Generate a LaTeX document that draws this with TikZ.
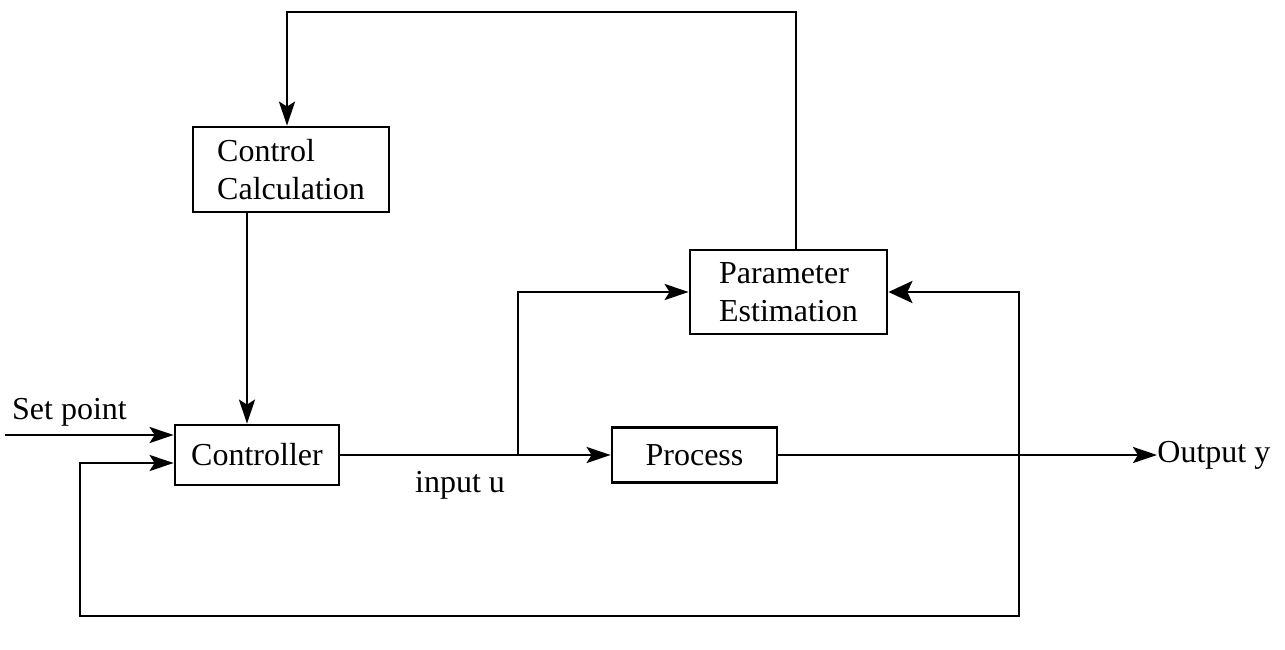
\documentclass[tikz,border=0pt]{standalone}
\usepackage{fontspec}
\setmainfont{Liberation Serif}
\usetikzlibrary{arrows.meta}
\tikzset{
  block/.style={draw, line width=1.4pt, inner sep=0pt, align=left,
    font=\fontsize{16}{19}\selectfont},
  lbl/.style={inner sep=0pt, font=\fontsize{16}{19}\selectfont},
  wire/.style={line width=1.4pt},
  arr/.style={wire, -{Stealth[length=12pt,width=8pt,inset=2.5pt]}},
}
\begin{document}
\begin{tikzpicture}[x=0.5pt,y=-0.5pt]
  \useasboundingbox (0,0) rectangle (1285,649);

  % blocks
  \node[block, minimum width=98pt, minimum height=42.5pt] (cc) at (291,169.5) {Control\\Calculation};
  \node[block, minimum width=82pt, minimum height=30pt] (ctrl) at (257,455) {Controller};
  \node[block, minimum width=98.5pt, minimum height=42pt] (pe) at (788.5,292) {Parameter\\Estimation};
  \node[block, minimum width=82.5pt, minimum height=27.5pt] (proc) at (694.5,455) {Process};

  % labels
  \node[lbl] (sp) at (69.5,412) {Set point};
  \node[lbl, anchor=west] (out) at (1157,455) {Output y};
  \node[lbl] (inu) at (460,485) {input u};

  % routing points
  \coordinate (spin) at (5,435);
  \coordinate (tl) at (287,12);
  \coordinate (tr) at (796,12);
  \coordinate (cd) at (247,0);
  \coordinate (br) at (518,455);
  \coordinate (fr) at (1019,616);
  \coordinate (fl) at (80,616);
  \coordinate (fb) at (0,463);

  % estimated parameters to control calculation
  \draw[arr] (pe.north -| tr) -- (tr) -- (tl) -- (cc.north -| tl);
  % control calculation to controller
  \draw[arr] (cc.south -| cd) -- (ctrl.north -| cd);
  % set point
  \draw[arr] (spin) -- (spin -| ctrl.west);
  % controller to process
  \draw[arr] (ctrl.east) -- (proc.west);
  % input branch to estimator
  \draw[arr] (br) |- (pe.west);
  % process output
  \draw[arr] (proc.east) -- (out.west);
  % output feedback to estimator and controller
  \draw[wire, {Stealth[length=12pt,width=11pt,inset=2.5pt]}-{Stealth[length=12pt,width=8pt,inset=2.5pt]}]
    (pe.east) -- (pe.east -| fr) -- (fr) -- (fl) -- (fl |- fb) -- (fb -| ctrl.west);
\end{tikzpicture}
\end{document}
